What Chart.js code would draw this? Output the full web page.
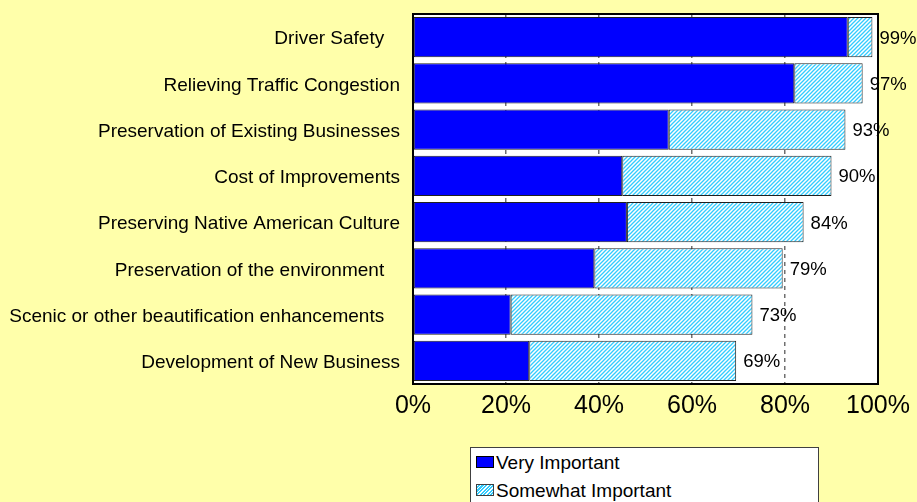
<!DOCTYPE html>
<html>
<head>
<meta charset="utf-8">
<script src="https://cdn.jsdelivr.net/npm/chart.js@4"></script>
<style>
  html, body { margin: 0; padding: 0; background: #FFFFAA; }
  #wrap { position: relative; width: 917px; height: 502px; overflow: hidden; font-family: Arial, "Liberation Sans", sans-serif; }
  #legend { position: absolute; left: 470px; top: 447px; width: 347px; height: 70px; background: #fff; border: 1px solid #404040; }
  #legend div { position: absolute; left: 5px; font-size: 19px; color: #000; line-height: 20px; }
  #legend span { display: inline-block; width: 16px; height: 10px; border: 1px solid #000; margin-right: 2px; vertical-align: 1px; }
  .sw1 { background: #0000FF; }
  .sw2 { background: repeating-linear-gradient(135deg, #fff 0 1px, #33CCFF 1px 2.5px); border-color: #404040 !important; }
</style>
</head>
<body>
<div id="wrap">
  <canvas id="chart" width="917" height="502"></canvas>
  <div id="legend">
    <div style="top:5px"><span class="sw1"></span>Very Important</div>
    <div style="top:33px"><span class="sw2"></span>Somewhat Important</div>
  </div>
</div>
<script>
const categories = [
    "Driver Safety   ",
    "Relieving Traffic Congestion",
    "Preservation of Existing Businesses",
    "Cost of Improvements",
    "Preserving Native American Culture",
    "Preservation of the environment   ",
    "Scenic or other beautification enhancements   ",
    "Development of New Business"
];
const veryImportant = [93.5, 82, 55, 45, 46, 39, 21, 25];
const somewhatImportant = [5.3, 14.7, 38, 45, 38, 40.5, 52, 44.5];
const totalLabels = ["99%", "97%", "93%", "90%", "84%", "79%", "73%", "69%"];
const tickValues = [0, 20, 40, 60, 80, 100];

// hatch pattern for the "somewhat" bars
function makeHatch() {
    const c = document.createElement('canvas');
    c.width = 4; c.height = 4;
    const g = c.getContext('2d');
    g.fillStyle = '#ffffff';
    g.fillRect(0, 0, 4, 4);
    g.strokeStyle = '#33CCFF';
    g.lineWidth = 1.3;
    g.beginPath();
    g.moveTo(-1, 5); g.lineTo(5, -1);
    g.moveTo(-1, 1); g.lineTo(1, -1);
    g.moveTo(3, 5); g.lineTo(5, 3);
    g.stroke();
    return document.getElementById('chart').getContext('2d').createPattern(c, 'repeat');
}

const plotFrame = {
    id: 'plotFrame',
    beforeDraw(chart) {
        const a = chart.chartArea, ctx = chart.ctx;
        ctx.save();
        ctx.fillStyle = '#ffffff';
        ctx.fillRect(a.left, a.top, a.right - a.left, a.bottom - a.top);
        ctx.restore();
    },
    afterDatasetsDraw(chart) {
        const a = chart.chartArea, ctx = chart.ctx;
        ctx.save();
        // total labels at end of stacked bar
        const meta = chart.getDatasetMeta(1);
        ctx.font = '18.5px Arial, "Liberation Sans", sans-serif';
        ctx.fillStyle = '#000';
        ctx.textAlign = 'left';
        ctx.textBaseline = 'middle';
        meta.data.forEach((bar, i) => {
            ctx.fillText(totalLabels[i], bar.x + 7, bar.y + 1.5);
        });
        ctx.strokeStyle = '#000';
        ctx.lineWidth = 2;
        ctx.strokeRect(a.left, a.top, a.right - a.left, a.bottom - a.top);
        ctx.restore();
    }
};

const ctx = document.getElementById('chart').getContext('2d');
const chart = new Chart(ctx, {
    type: 'bar',
    data: {
        labels: categories,
        datasets: [{
            label: 'Very Important',
            data: veryImportant,
            backgroundColor: '#0000FF',
            borderColor: '#202020',
            borderWidth: 1,
            borderSkipped: false,
            barPercentage: 0.87,
            categoryPercentage: 1
        }, {
            label: 'Somewhat Important',
            data: somewhatImportant,
            backgroundColor: makeHatch(),
            borderColor: '#202020',
            borderWidth: 1,
            borderSkipped: false,
            barPercentage: 0.87,
            categoryPercentage: 1
        }]
    },
    options: {
        indexAxis: 'y',
        responsive: false,
        animation: false,
        layout: { padding: { top: 14, right: 39, left: 0, bottom: 0 } },
        plugins: {
            legend: { display: false },
            tooltip: { enabled: false }
        },
        scales: {
            x: {
                stacked: true,
                min: 0,
                max: 100,
                afterBuildTicks: (scale) => {
                    scale.ticks = tickValues.map(v => ({ value: v }));
                },
                afterFit: (scale) => {
                    scale.height = 118;
                    scale.paddingLeft = 0;
                    scale.paddingRight = 0;
                },
                border: { display: false, dash: [4, 4] },
                grid: {
                    drawTicks: false,
                    color: (c) => (c.tick && (c.tick.value === 0 || c.tick.value === 100)) ? 'rgba(0,0,0,0)' : '#707070',
                    lineWidth: 1.5
                },
                ticks: {
                    padding: 7,
                    color: '#000',
                    font: { family: 'Arial, "Liberation Sans", sans-serif', size: 25 },
                    callback: (v) => v + '%'
                }
            },
            y: {
                stacked: true,
                afterFit: (scale) => {
                    scale.width = 413;
                    scale.paddingTop = 0;
                    scale.paddingBottom = 0;
                },
                border: { display: false },
                grid: { display: false, drawTicks: false },
                ticks: {
                    padding: 13,
                    labelOffset: 2,
                    color: '#000',
                    font: { family: 'Arial, "Liberation Sans", sans-serif', size: 19 }
                }
            }
        }
    },
    plugins: [plotFrame]
});
</script>
</body>
</html>
